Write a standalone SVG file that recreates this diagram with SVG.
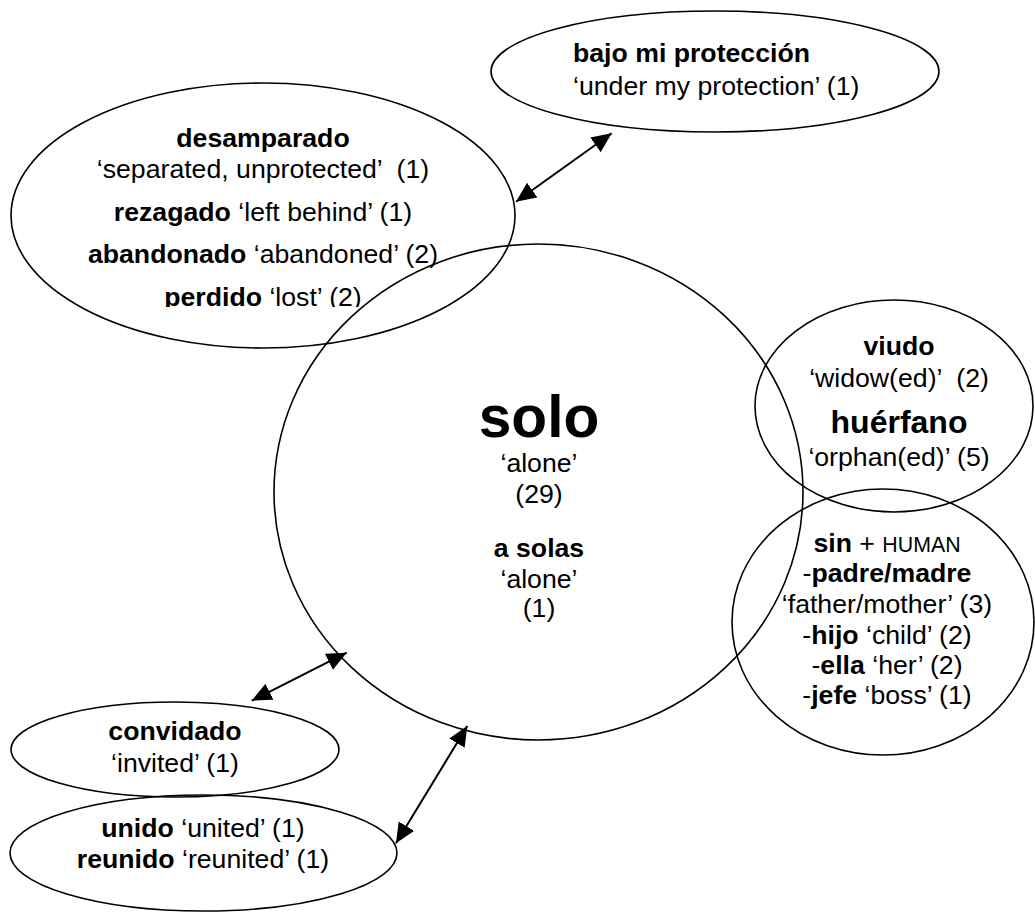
<svg xmlns="http://www.w3.org/2000/svg" width="1035" height="913" viewBox="0 0 1035 913">
  <style>
    .shape { fill: none; stroke: #000; stroke-width: 1.6; }
    .conn { stroke: #000; stroke-width: 2; fill: none; marker-start: url(#ah); marker-end: url(#ah); }
    text { font-family: "Liberation Sans", Arial, sans-serif; font-size: 26.67px; fill: #000; text-anchor: middle; }
    .b { font-weight: bold; }
    .big { font-size: 58.67px; font-weight: bold; }
    .mid { font-size: 32px; font-weight: bold; }
    .sc { font-size: 21.33px; }
    .left { text-anchor: start; }
  </style>
  <defs>
    <marker id="ah" markerUnits="userSpaceOnUse" markerWidth="22" markerHeight="20" refX="20" refY="9" orient="auto-start-reverse" viewBox="0 0 22 20">
      <path d="M0,0 L20,9 L0,18 z" fill="#000"/>
    </marker>
    <clipPath id="clipPerdido">
      <rect x="100" y="260" width="330" height="47"/>
    </clipPath>
  </defs>
  <rect width="1035" height="913" fill="#fff"/>

  <g id="node-bajo">
    <ellipse class="shape" cx="715" cy="71.5" rx="224" ry="60.5"/>
    <text class="left b" x="573" y="62">bajo mi protección</text>
    <text class="left" x="573" y="95">‘under my protection’ (1)</text>
  </g>

  <g id="node-desamparado">
    <ellipse class="shape" cx="263" cy="215.5" rx="252" ry="132.5"/>
    <text class="b" x="263" y="147">desamparado</text>
    <text x="263" y="178" xml:space="preserve">‘separated, unprotected’  (1)</text>
    <text x="263" y="221"><tspan class="b">rezagado</tspan> ‘left behind’ (1)</text>
    <text x="263" y="263"><tspan class="b">abandonado</tspan> ‘abandoned’ (2)</text>
    <text x="263" y="306" clip-path="url(#clipPerdido)"><tspan class="b">perdido</tspan> ‘lost’ (2)</text>
  </g>

  <g id="node-solo">
    <ellipse class="shape" cx="538.5" cy="492" rx="264.5" ry="248"/>
    <text class="big" x="539" y="437">solo</text>
    <text x="539" y="472">‘alone’</text>
    <text x="539" y="503">(29)</text>
    <text class="b" x="539" y="557">a solas</text>
    <text x="539" y="588">‘alone’</text>
    <text x="539" y="617">(1)</text>
  </g>

  <g id="node-viudo">
    <ellipse class="shape" cx="894" cy="406" rx="139" ry="106"/>
    <text class="b" x="899" y="355">viudo</text>
    <text x="899" y="387" xml:space="preserve">‘widow(ed)’  (2)</text>
    <text class="mid" x="899" y="433">huérfano</text>
    <text x="899" y="466">‘orphan(ed)’ (5)</text>
  </g>

  <g id="node-sin">
    <ellipse class="shape" cx="883" cy="622" rx="151" ry="133"/>
    <text x="887" y="552"><tspan class="b">sin</tspan> + <tspan class="sc">HUMAN</tspan></text>
    <text x="887" y="582">-<tspan class="b">padre/madre</tspan></text>
    <text x="887" y="613">‘father/mother’ (3)</text>
    <text x="887" y="644">-<tspan class="b">hijo</tspan> ‘child’ (2)</text>
    <text x="887" y="674">-<tspan class="b">ella</tspan> ‘her’ (2)</text>
    <text x="887" y="704">-<tspan class="b">jefe</tspan> ‘boss’ (1)</text>
  </g>

  <g id="node-convidado">
    <ellipse class="shape" cx="175" cy="749.5" rx="164" ry="47.5"/>
    <text class="b" x="175" y="740">convidado</text>
    <text x="175" y="772">‘invited’ (1)</text>
  </g>

  <g id="node-unido">
    <ellipse class="shape" cx="203.5" cy="853" rx="193.5" ry="58"/>
    <text x="203" y="837"><tspan class="b">unido</tspan> ‘united’ (1)</text>
    <text x="203" y="868"><tspan class="b">reunido</tspan> ‘reunited’ (1)</text>
  </g>

  <g id="connectors">
    <line class="conn" x1="516" y1="201.7" x2="611.7" y2="133.3"/>
    <line class="conn" x1="251.7" y1="700.7" x2="346.7" y2="652.7"/>
    <line class="conn" x1="396" y1="843.3" x2="467.3" y2="726"/>
  </g>
</svg>
